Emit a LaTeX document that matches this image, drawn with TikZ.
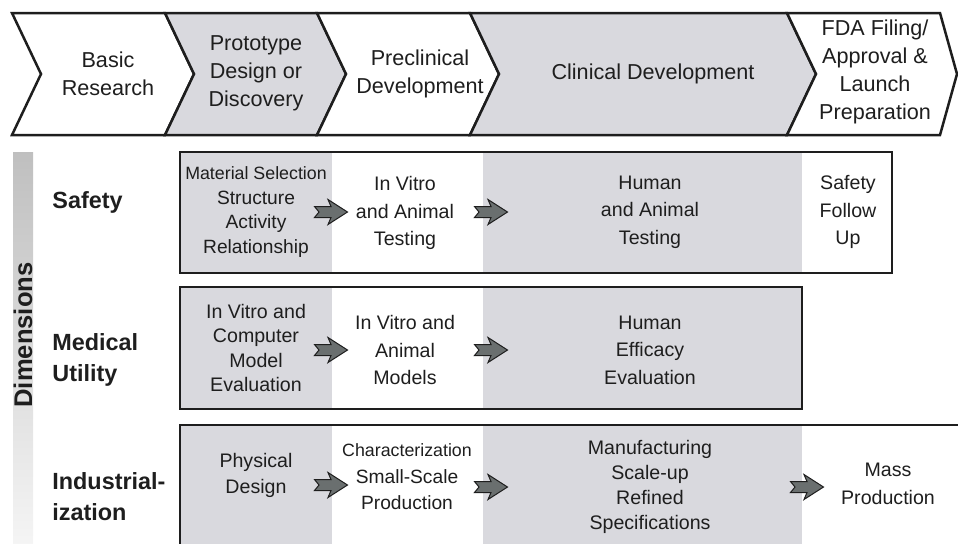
\documentclass[tikz,border=0pt]{standalone}
\usepackage{fontspec}
\setmainfont{Liberation Sans}
\usetikzlibrary{positioning}
\usetikzlibrary{calc}
\definecolor{cellgray}{RGB}{217,217,222}
\definecolor{arrowgray}{RGB}{106,111,111}
\definecolor{ink}{RGB}{30,30,30}
\tikzset{phase/.style={draw=ink, line width=1.25pt, line join=miter}}
\tikzset{frame/.style={draw=ink, line width=0.7pt}}
\tikzset{head/.style={align=center, inner sep=0pt, text=ink, font=\fontsize{10.8}{14}\selectfont}}
\tikzset{txt/.style={align=center, inner sep=0pt, text=ink, font=\fontsize{9.8}{13.7}\selectfont}}
\tikzset{dim/.style={align=left, anchor=west, inner sep=0pt, text=ink, font=\fontsize{11.7}{15.5}\selectfont\bfseries}}
\tikzset{fwd/.pic={\draw[fill=arrowgray, draw=ink, line width=0.5pt, line join=miter]
  (-16.5,-5.5) -- (0,-5.5) -- (-3,-12.5) -- (16.5,0) -- (-3,12.5) -- (0,5.5) -- (-16.5,5.5) -- (-12,0) -- cycle;}}
\newcommand{\narrow}[1]{{\fontsize{8.9}{12}\selectfont #1}}

\begin{document}
\begin{tikzpicture}[x=0.5pt, y=-0.5pt]
\useasboundingbox (0,0) rectangle (958,543);
\clip (0,0) rectangle (958,543);

% phases
\draw[phase, fill=white] (12,13) -- (165,13) -- (194,74) -- (165,135) -- (12,135) -- (41,74) -- cycle;
\draw[phase, fill=cellgray] (165,13) -- (317,13) -- (346,74) -- (317,135) -- (165,135) -- (194,74) -- cycle;
\draw[phase, fill=white] (317,13) -- (470,13) -- (499,74) -- (470,135) -- (317,135) -- (346,74) -- cycle;
\draw[phase, fill=cellgray] (470,13) -- (787,13) -- (816,74) -- (787,135) -- (470,135) -- (499,74) -- cycle;
\draw[phase, fill=white] (787,13) -- (940,13) -- (957,74) -- (940,135) -- (787,135) -- (816,74) -- cycle;

\node[head] (basic) at (108,74) {Basic\\Research};
\node[head] (proto) at (256,73) {Prototype\\Design or\\Discovery};
\node[head] (precl) at (420,74) {Preclinical\\Development};
\node[head] (clin) at (653,74) {Clinical Development};
\node[head] (fda) at (875,72) {FDA Filing/\\Approval \&\\Launch\\Preparation};

% dimensions bar
\shade[top color=black!25, bottom color=black!4] (13,152) rectangle (33,545);
\node[rotate=90, inner sep=0pt, text=ink, font=\fontsize{12.8}{15}\selectfont\bfseries] (dims) at (23,335) {Dimensions};

% rows
\foreach \t/\b in {152/273, 287/409, 425/560} {
  \fill[cellgray] (180,\t) rectangle (332,\b);
  \fill[cellgray] (483,\t) rectangle (802,\b);
}
\draw[frame] (180,152) rectangle (892,273);
\draw[frame] (180,287) rectangle (802,409);
\draw[frame] (180,560) -- (180,425) -- (970,425);

\node[dim] (safety) at (52,202) {Safety};
\node[dim] (medical) at (52,360) {Medical\\Utility};
\node[dim] (indus) at (52,497) {Industrial-\\ization};

% safety
\node[txt, font=\fontsize{9.6}{12.4}\selectfont] (mat) at (256,212) {\narrow{Material Selection}\\Structure\\Activity\\Relationship};
\node[txt] (vitro) at (405,213) {In Vitro\\and Animal\\Testing};
\node[txt] (human) at (650,212) {Human\\and Animal\\Testing};
\node[txt] (follow) at (848,212) {Safety\\Follow\\Up};
\pic at (331,212) {fwd};
\pic at (491,212) {fwd};

% medical utility
\node[txt, font=\fontsize{9.8}{12.3}\selectfont] (comp) at (256,348) {In Vitro and\\Computer\\Model\\Evaluation};
\node[txt] (models) at (405,350) {In Vitro and\\Animal\\Models};
\node[txt] (efficacy) at (650,350) {Human\\Efficacy\\Evaluation};
\pic at (331,350) {fwd};
\pic at (491,350) {fwd};

% industrialization
\node[txt, font=\fontsize{9.8}{13}\selectfont] (phys) at (256,475) {Physical\\Design};
\node[txt, font=\fontsize{9.6}{13.2}\selectfont] (charac) at (407,477) {\narrow{Characterization}\\Small-Scale\\Production};
\node[txt, font=\fontsize{9.8}{12.5}\selectfont] (manu) at (650,487) {Manufacturing\\Scale-up\\Refined\\Specifications};
\node[txt] (mass) at (888,484) {Mass\\Production};
\pic at (331,485) {fwd};
\pic at (491,487) {fwd};
\pic at (807,487) {fwd};
\end{tikzpicture}
\end{document}
